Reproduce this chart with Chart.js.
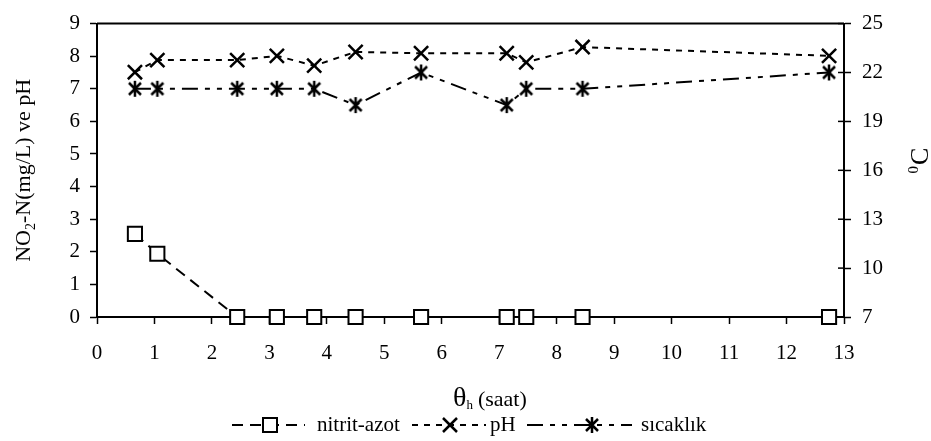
<!DOCTYPE html>
<html>
<head>
<meta charset="utf-8">
<script src="https://cdn.jsdelivr.net/npm/chart.js@4.4.1/dist/chart.umd.min.js"></script>
<style>
  html, body { margin: 0; padding: 0; background: #fff; }
  #wrap { width: 931px; height: 441px; }
</style>
</head>
<body>
<div id="wrap"><canvas id="chart" width="931" height="441"></canvas></div>
<script>
// zaman (saat) ve olcumler
var timeH = [0.66, 1.05, 2.44, 3.13, 3.78, 4.5, 5.64, 7.13, 7.47, 8.45, 12.74];
var nitritAzot = [2.55, 1.94, 0, 0, 0, 0, 0, 0, 0, 0, 0];
var pHValues = [7.51, 7.88, 7.88, 8.01, 7.71, 8.13, 8.09, 8.09, 7.81, 8.28, 8.01];
var sicaklik = [21, 21, 21, 21, 21, 20, 22, 20, 21, 21, 22];

var seriesNames = ["nitrit-azot", "pH", "sıcaklık"];
var xTicks = [0, 13, 1];      // min, max, step
var leftTicks = [0, 9, 1];
var rightTicks = [7, 25, 3];

var SERIF = "'Liberation Serif', 'Times New Roman', serif";

function xy(values) {
    return timeH.map(function (x, i) { return { x: x, y: values[i] }; });
}

// yildiz isaret: x + dikey cizgi
function makeAsterisk() {
    var c = document.createElement('canvas');
    c.width = 20; c.height = 20;
    var g = c.getContext('2d');
    g.strokeStyle = '#000';
    g.lineWidth = 2.5;
    g.beginPath();
    g.moveTo(4, 4); g.lineTo(16, 16);
    g.moveTo(16, 4); g.lineTo(4, 16);
    g.moveTo(10, 2); g.lineTo(10, 18);
    g.stroke();
    return c;
}
var asterisk = makeAsterisk();

var dashNitrit = [11, 7];
var dashPH = [6, 6];
var dashSicak = [16, 7, 5, 7, 5, 7];

function drawMarker(ctx, kind, x, y) {
    ctx.save();
    ctx.setLineDash([]);
    ctx.strokeStyle = '#000';
    if (kind === 'rect') {
        ctx.lineWidth = 2;
        ctx.fillStyle = '#fff';
        ctx.fillRect(x - 7, y - 7, 14, 14);
        ctx.strokeRect(x - 7, y - 7, 14, 14);
    } else if (kind === 'cross') {
        ctx.lineWidth = 2.5;
        ctx.beginPath();
        ctx.moveTo(x - 7, y - 7); ctx.lineTo(x + 7, y + 7);
        ctx.moveTo(x + 7, y - 7); ctx.lineTo(x - 7, y + 7);
        ctx.stroke();
    } else {
        ctx.drawImage(asterisk, x - 10, y - 10);
    }
    ctx.restore();
}

var extras = {
    id: 'extras',
    afterDraw: function (chart) {
        var ctx = chart.ctx;
        var a = chart.chartArea;
        ctx.save();
        // cerceve ust cizgi
        ctx.strokeStyle = '#000';
        ctx.lineWidth = 2;
        ctx.beginPath();
        ctx.moveTo(a.left, a.top);
        ctx.lineTo(a.right, a.top);
        ctx.stroke();

        // sag eksen tikleri iceri dogru da uzansin
        var r = chart.scales.y1;
        ctx.lineWidth = 1.5;
        r.ticks.forEach(function (t) {
            var py = r.getPixelForValue(t.value);
            ctx.beginPath();
            ctx.moveTo(a.right - 6, py);
            ctx.lineTo(a.right, py);
            ctx.stroke();
        });

        ctx.fillStyle = '#000';
        ctx.textBaseline = 'alphabetic';
        ctx.textAlign = 'left';

        // sol eksen basligi
        ctx.save();
        ctx.translate(23, (a.top + a.bottom) / 2);
        ctx.rotate(-Math.PI / 2);
        var parts = [["NO", 22, 7], ["2", 14, 12], ["-N(mg/L) ve pH", 22, 7]];
        var w = 0;
        parts.forEach(function (p) { ctx.font = p[1] + "px " + SERIF; w += ctx.measureText(p[0]).width; });
        var px = -w / 2;
        parts.forEach(function (p) {
            ctx.font = p[1] + "px " + SERIF;
            ctx.fillText(p[0], px, p[2]);
            px += ctx.measureText(p[0]).width;
        });
        ctx.restore();

        // sag eksen basligi
        ctx.save();
        ctx.translate(919, 161);
        ctx.rotate(-Math.PI / 2);
        ctx.font = "15px " + SERIF;
        var w0 = ctx.measureText("0").width;
        ctx.font = "26px " + SERIF;
        var wc = ctx.measureText("C").width;
        var sx = -(w0 + wc) / 2;
        ctx.font = "15px " + SERIF;
        ctx.fillText("0", sx, -1);
        ctx.font = "26px " + SERIF;
        ctx.fillText("C", sx + w0 + 1, 9);
        ctx.restore();

        // x ekseni basligi
        var tx = 453;
        ctx.font = "28px " + SERIF;
        ctx.fillText("θ", tx, 406);
        tx += ctx.measureText("θ").width;
        ctx.font = "13px " + SERIF;
        ctx.fillText("h", tx, 409);
        tx += ctx.measureText("h").width + 5;
        ctx.font = "22px " + SERIF;
        ctx.fillText("(saat)", tx, 406);

        // lejant
        var ly = 425;
        var items = [
            { dash: dashNitrit, marker: 'rect', x0: 232, x1: 305, mx: 270, tx: 317 },
            { dash: dashPH, marker: 'cross', x0: 412, x1: 486, mx: 450, tx: 490 },
            { dash: dashSicak, marker: 'star', x0: 527, x1: 632, mx: 592, tx: 641 }
        ];
        items.forEach(function (it, i) {
            ctx.save();
            ctx.strokeStyle = '#000';
            ctx.lineWidth = 2;
            ctx.setLineDash(it.dash);
            ctx.beginPath();
            ctx.moveTo(it.x0, ly);
            ctx.lineTo(it.x1, ly);
            ctx.stroke();
            ctx.restore();
            drawMarker(ctx, it.marker, it.mx, ly);
            ctx.font = "21px " + SERIF;
            ctx.fillStyle = '#000';
            ctx.fillText(seriesNames[i], it.tx, ly + 6);
        });
        ctx.restore();
    }
};

function axisStyle(pad) {
    return {
        ticks: { color: '#000', font: { family: SERIF, size: 21 }, padding: pad },
        grid: { drawOnChartArea: false, tickLength: 7, color: '#000', tickWidth: 1.5 },
        border: { color: '#000', width: 2 }
    };
}

var xs = axisStyle(17);
xs.type = 'linear';
xs.min = xTicks[0]; xs.max = xTicks[1];
xs.ticks.stepSize = xTicks[2];
xs.ticks.maxRotation = 0;
xs.afterFit = function (s) { s.height = 124; };

var ys = axisStyle(10);
ys.min = leftTicks[0]; ys.max = leftTicks[1];
ys.ticks.stepSize = leftTicks[2];
ys.afterFit = function (s) { s.width = 97; };

var y1s = axisStyle(11);
y1s.position = 'right';
y1s.min = rightTicks[0]; y1s.max = rightTicks[1];
y1s.ticks.stepSize = rightTicks[2];
y1s.afterFit = function (s) { s.width = 87; };

new Chart(document.getElementById('chart').getContext('2d'), {
    type: 'line',
    data: {
        datasets: [{
            label: seriesNames[0],
            data: xy(nitritAzot),
            yAxisID: 'y',
            borderColor: '#000',
            borderWidth: 2,
            borderDash: dashNitrit,
            pointStyle: 'rect',
            pointRadius: 10,
            pointBorderWidth: 2,
            pointBackgroundColor: '#fff',
            pointBorderColor: '#000',
            clip: false
        }, {
            label: seriesNames[1],
            data: xy(pHValues),
            yAxisID: 'y',
            borderColor: '#000',
            borderWidth: 2,
            borderDash: dashPH,
            pointStyle: 'crossRot',
            pointRadius: 10,
            pointBorderWidth: 2.5,
            pointBorderColor: '#000',
            clip: false
        }, {
            label: seriesNames[2],
            data: xy(sicaklik),
            yAxisID: 'y1',
            borderColor: '#000',
            borderWidth: 2,
            borderDash: dashSicak,
            pointStyle: asterisk,
            pointRadius: 10,
            clip: false
        }]
    },
    options: {
        responsive: false,
        animation: false,
        layout: { padding: { top: 17, left: 0, right: 0, bottom: 0 } },
        plugins: {
            legend: { display: false },
            tooltip: { enabled: false }
        },
        scales: { x: xs, y: ys, y1: y1s }
    },
    plugins: [extras]
});
</script>
</body>
</html>
